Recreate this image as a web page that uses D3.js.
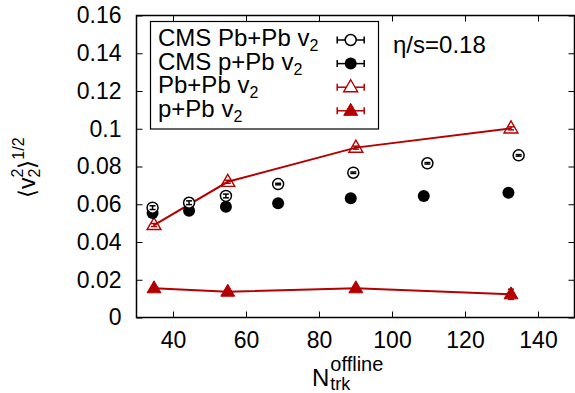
<!DOCTYPE html>
<html>
<head>
<meta charset="utf-8">
<script src="https://cdn.jsdelivr.net/npm/d3@7"></script>
<style>
  html, body { margin: 0; padding: 0; background: #fff; }
  svg { display: block; font-family: "Liberation Sans", Arial, Helvetica, sans-serif; }
</style>
</head>
<body>
<svg id="chart" width="575" height="393"></svg>
<script>
// Multiplicity (N_trk^offline) and rms v2 values for each series
const cmsPbPbX   = [34.4, 44.4, 54.5, 68.8, 89.4, 109.7, 134.7];
const cmsPbPbY   = [0.0582, 0.0608, 0.0644, 0.0707, 0.0767, 0.0817, 0.0859];
const cmsPbPbErr = [0.0010, 0.0010, 0.0010, 0.0004, 0.0004, 0.0004, 0.0004];

const cmsPPbX   = [34.4, 44.4, 54.5, 68.8, 88.7, 108.7, 131.9];
const cmsPPbY   = [0.0554, 0.0566, 0.0587, 0.0605, 0.0632, 0.0644, 0.0661];
const cmsPPbErr = [0.0004, 0.0004, 0.0004, 0.0004, 0.0004, 0.0004, 0.0004];

const calcX        = [34.8, 55.0, 90.1, 132.6];
const calcPbPbY    = [0.0490, 0.0719, 0.0900, 0.1002];
const calcPbPbErr  = [0.0008, 0.0008, 0.0008, 0.0008];
const calcPPbY     = [0.0155, 0.0137, 0.0155, 0.0123];
const calcPPbErr   = [0.0006, 0.0006, 0.0006, 0.0027];

const xTicks = [40, 60, 80, 100, 120, 140];
const yTicks = [0, 0.02, 0.04, 0.06, 0.08, 0.1, 0.12, 0.14, 0.16];
const yTickLabels = ["0", "0.02", "0.04", "0.06", "0.08", "0.1", "0.12", "0.14", "0.16"];

const legendItems = [
  { label: "CMS Pb+Pb v", key: "cmsPbPb" },
  { label: "CMS p+Pb v",  key: "cmsPPb" },
  { label: "Pb+Pb v",     key: "calcPbPb" },
  { label: "p+Pb v",      key: "calcPPb" }
];

const RED = "#b40000";
const FONT = "Liberation Sans, Arial, sans-serif";
const svg = d3.select("#chart");

const x = d3.scaleLinear().domain([30, 150]).range([136.5, 574.5]);
const y = d3.scaleLinear().domain([0, 0.16]).range([317.5, 15.5]);

const [x0, x1] = x.range();
const [y0, y1] = y.range();

// Axes with inward ticks, mirrored on top and right
const tickLen = 6;
svg.append("g")
  .attr("transform", `translate(0,${y0})`)
  .call(d3.axisBottom(x).tickValues(xTicks).tickSizeInner(-tickLen).tickSizeOuter(0).tickPadding(14))
  .call(g => g.select(".domain").remove())
  .call(g => g.selectAll("text").attr("font-size", 23).attr("fill", "#000").attr("font-family", FONT));

svg.append("g")
  .attr("transform", `translate(0,${y1})`)
  .call(d3.axisTop(x).tickValues(xTicks).tickSizeInner(-tickLen).tickSizeOuter(0).tickFormat(""))
  .call(g => g.select(".domain").remove());

svg.append("g")
  .attr("transform", `translate(${x0},0)`)
  .call(d3.axisLeft(y).tickValues(yTicks).tickSizeInner(-tickLen).tickSizeOuter(0).tickPadding(15)
    .tickFormat((d, i) => yTickLabels[i]))
  .call(g => g.select(".domain").remove())
  .call(g => g.selectAll("text").attr("font-size", 23).attr("fill", "#000").attr("font-family", FONT));

svg.append("g")
  .attr("transform", `translate(${x1},0)`)
  .call(d3.axisRight(y).tickValues(yTicks).tickSizeInner(-tickLen).tickSizeOuter(0).tickFormat(""))
  .call(g => g.select(".domain").remove());

svg.selectAll(".tick line").attr("stroke", "#000").attr("stroke-width", 1);

// Plot frame
svg.append("rect")
  .attr("x", x0).attr("y", y1)
  .attr("width", x1 - x0).attr("height", y0 - y1)
  .attr("fill", "none").attr("stroke", "#000").attr("stroke-width", 1.5);

// Helpers for markers and error bars
const triPath = (cx, cy, s) =>
  `M${cx},${cy - s * 0.62}L${cx + s * 0.58},${cy + s * 0.38}L${cx - s * 0.58},${cy + s * 0.38}Z`;

function errorBars(g, xs, ys, errs, color, cap) {
  xs.forEach((xv, i) => {
    const cx = x(xv), ya = y(ys[i] - errs[i]), yb = y(ys[i] + errs[i]);
    g.append("line").attr("x1", cx).attr("x2", cx).attr("y1", ya).attr("y2", yb)
      .attr("stroke", color).attr("stroke-width", 1.5);
    [ya, yb].forEach(yy => g.append("line")
      .attr("x1", cx - cap).attr("x2", cx + cap).attr("y1", yy).attr("y2", yy)
      .attr("stroke", color).attr("stroke-width", 1.5));
  });
}

const plot = svg.append("g");

// Calculated curves: lines through the model points
const line = d3.line().x(d => x(d[0])).y(d => y(d[1]));
plot.append("path")
  .datum(calcX.map((v, i) => [v, calcPbPbY[i]]))
  .attr("d", line).attr("fill", "none").attr("stroke", RED).attr("stroke-width", 2);
plot.append("path")
  .datum(calcX.map((v, i) => [v, calcPPbY[i]]))
  .attr("d", line).attr("fill", "none").attr("stroke", RED).attr("stroke-width", 2);

// Pb+Pb model: open triangles
errorBars(plot, calcX, calcPbPbY, calcPbPbErr, RED, 3);
plot.selectAll(".tri-open").data(calcX).enter().append("path")
  .attr("d", (d, i) => triPath(x(d), y(calcPbPbY[i]), 12))
  .attr("fill", "none").attr("stroke", RED).attr("stroke-width", 1.4);

// p+Pb model: filled triangles
errorBars(plot, calcX, calcPPbY, calcPPbErr, RED, 3);
plot.selectAll(".tri-fill").data(calcX).enter().append("path")
  .attr("d", (d, i) => triPath(x(d), y(calcPPbY[i]), 12))
  .attr("fill", RED).attr("stroke", RED).attr("stroke-width", 1);

// CMS p+Pb: filled circles
errorBars(plot, cmsPPbX, cmsPPbY, cmsPPbErr, "#000", 3);
plot.selectAll(".circ-fill").data(cmsPPbX).enter().append("circle")
  .attr("cx", d => x(d)).attr("cy", (d, i) => y(cmsPPbY[i])).attr("r", 6)
  .attr("fill", "#000");

// CMS Pb+Pb: open circles
plot.selectAll(".circ-open").data(cmsPbPbX).enter().append("circle")
  .attr("cx", d => x(d)).attr("cy", (d, i) => y(cmsPbPbY[i])).attr("r", 5.5)
  .attr("fill", "#fff").attr("stroke", "#000").attr("stroke-width", 1.5);
errorBars(plot, cmsPbPbX, cmsPbPbY, cmsPbPbErr, "#000", 3);

// Legend
const lg = svg.append("g");
lg.append("rect").attr("x", 150.5).attr("y", 21.5).attr("width", 228).attr("height", 107.5)
  .attr("fill", "#fff").attr("stroke", "#000").attr("stroke-width", 1.2);

legendItems.forEach((item, i) => {
  const cy = 40 + i * 23.6;
  const t = lg.append("text").attr("x", 158).attr("y", cy + 6)
    .attr("font-size", 24).attr("fill", "#000");
  t.append("tspan").text(item.label);
  t.append("tspan").attr("font-size", 16).attr("dy", 5).text("2");

  const color = item.key.startsWith("cms") ? "#000" : RED;
  const sx = 350.7, half = 13.5;
  lg.append("line").attr("x1", sx - half).attr("x2", sx + half).attr("y1", cy).attr("y2", cy)
    .attr("stroke", color).attr("stroke-width", 1.5);
  [sx - half, sx + half].forEach(xx => lg.append("line")
    .attr("x1", xx).attr("x2", xx).attr("y1", cy - 3.5).attr("y2", cy + 3.5)
    .attr("stroke", color).attr("stroke-width", 1.5));

  if (item.key === "cmsPbPb") {
    lg.append("circle").attr("cx", sx).attr("cy", cy).attr("r", 5.5)
      .attr("fill", "#fff").attr("stroke", "#000").attr("stroke-width", 1.5);
  } else if (item.key === "cmsPPb") {
    lg.append("circle").attr("cx", sx).attr("cy", cy).attr("r", 6).attr("fill", "#000");
  } else if (item.key === "calcPbPb") {
    lg.append("path").attr("d", triPath(sx, cy, 12)).attr("fill", "#fff")
      .attr("stroke", RED).attr("stroke-width", 1.4);
  } else {
    lg.append("path").attr("d", triPath(sx, cy, 12)).attr("fill", RED)
      .attr("stroke", RED).attr("stroke-width", 1);
  }
});

// Viscosity annotation
svg.append("text").attr("x", 393).attr("y", 53)
  .attr("font-size", 24).attr("fill", "#000").text("η/s=0.18");

// X axis title: N with subscript "trk" and superscript "offline" stacked after it
const nText = svg.append("text").attr("x", 312).attr("y", 386)
  .attr("font-size", 24).attr("fill", "#000").text("N");
const nRight = 312 + nText.node().getComputedTextLength() + 1;
svg.append("text").attr("x", nRight).attr("y", 371)
  .attr("font-size", 20).attr("fill", "#000").text("offline");
svg.append("text").attr("x", nRight).attr("y", 390)
  .attr("font-size", 18).attr("fill", "#000").text("trk");

// Y axis title: <v2^2>^(1/2), rotated
const yt = svg.append("text")
  .attr("transform", "translate(35,198) rotate(-90)")
  .attr("font-size", 23).attr("fill", "#000");
yt.append("tspan").text("⟨v");
yt.append("tspan").attr("font-size", 16).attr("dy", 5).text("2");
yt.append("tspan").attr("font-size", 16).attr("dx", -9).attr("dy", -17).text("2");
yt.append("tspan").attr("dy", 12).text("⟩");
yt.append("tspan").attr("font-size", 16).attr("dy", -11).text("1/2");
</script>
</body>
</html>
